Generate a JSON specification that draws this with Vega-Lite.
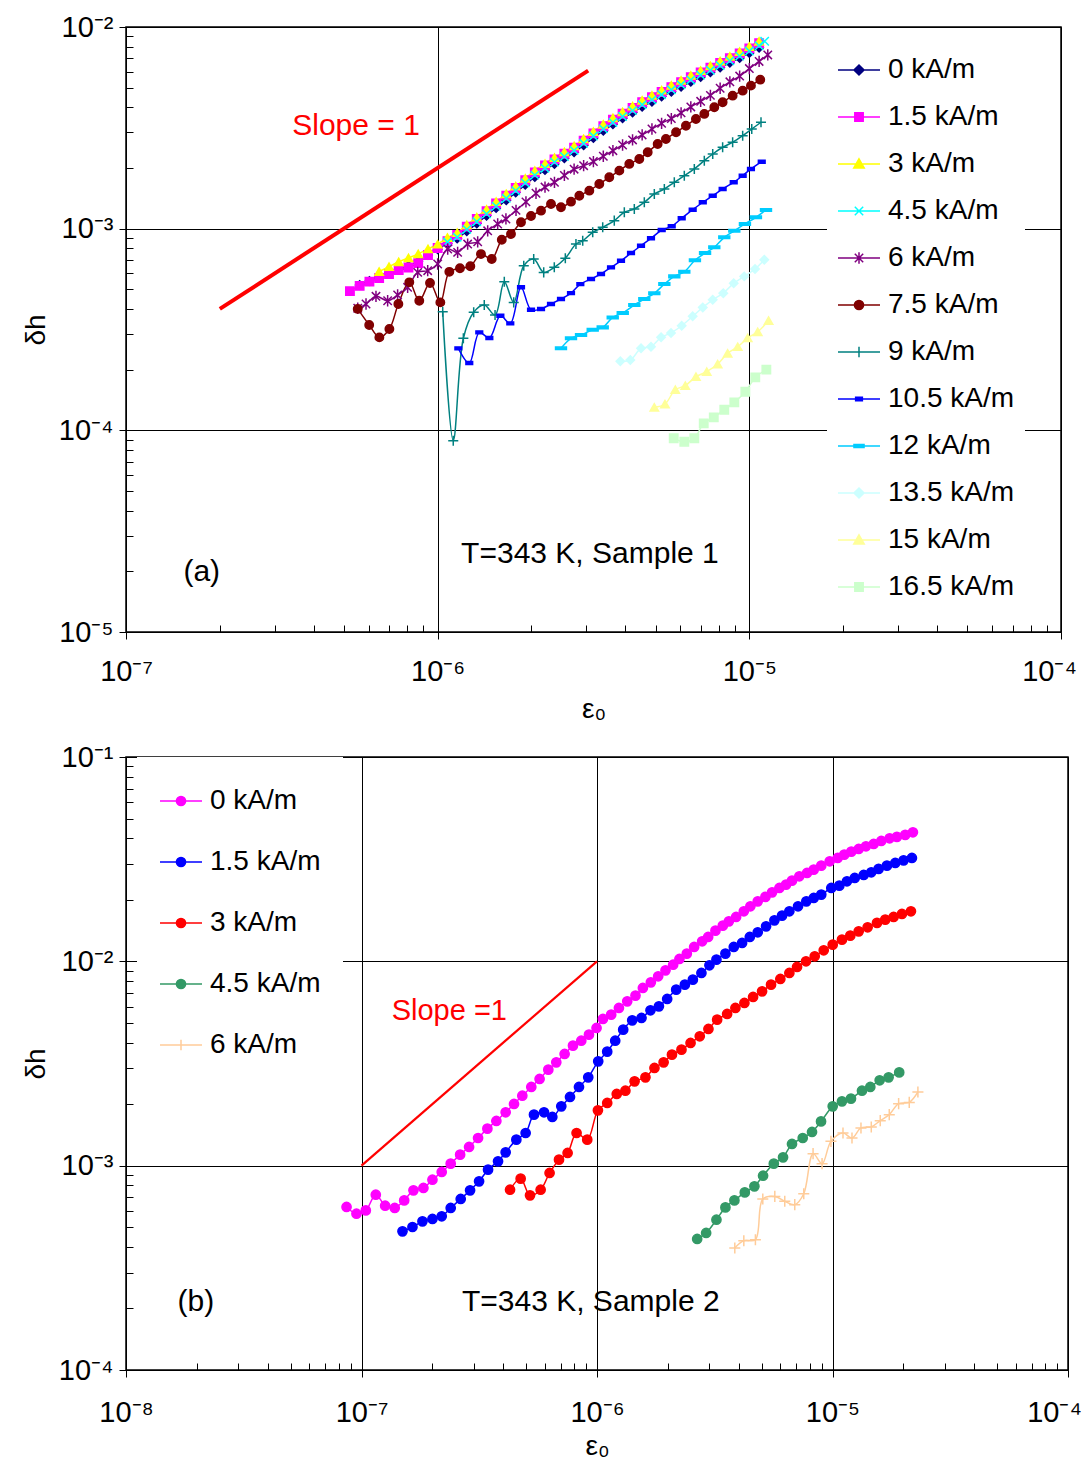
{
"$schema":"https://vega.github.io/schema/vega-lite/v6.json",
"background":"white",
"padding":{"left":21,"top":12,"right":10,"bottom":5},
"spacing":18,
"config":{"font":"Liberation Sans","view":{"stroke":"#000000","strokeWidth":1.5},
"axis":{"labelFont":"Liberation Sans","titleFont":"Liberation Sans","labelColor":"#000","titleColor":"#000","tickColor":"#000","gridColor":"#000","labelFontSize":29,"titleFontSize":28,"titleFontWeight":"normal"},
"legend":{"labelFont":"Liberation Sans","labelColor":"#000"}},
"resolve":{"scale":{"stroke":"independent","fill":"independent","shape":"independent"},"legend":{"shape":"independent"}},
"datasets":{"a":[
{"s":"0 kA/m","x":5.62e-7,"y":5.25e-4},{"s":"0 kA/m","x":6.04e-7,"y":5.5e-4},{"s":"0 kA/m","x":6.49e-7,"y":5.75e-4},{"s":"0 kA/m","x":6.98e-7,"y":6.02e-4},{"s":"0 kA/m","x":7.5e-7,"y":6.3e-4},{"s":"0 kA/m","x":8.06e-7,"y":6.55e-4},{"s":"0 kA/m","x":8.66e-7,"y":6.9e-4},{"s":"0 kA/m","x":9.31e-7,"y":7.4e-4},{"s":"0 kA/m","x":1e-6,"y":7.9e-4},{"s":"0 kA/m","x":1.075e-6,"y":8.45e-4},{"s":"0 kA/m","x":1.155e-6,"y":8.95e-4},{"s":"0 kA/m","x":1.24e-6,"y":9.71e-4},{"s":"0 kA/m","x":1.335e-6,"y":1.06e-3},{"s":"0 kA/m","x":1.435e-6,"y":1.159e-3},{"s":"0 kA/m","x":1.54e-6,"y":1.266e-3},{"s":"0 kA/m","x":1.66e-6,"y":1.384e-3},{"s":"0 kA/m","x":1.78e-6,"y":1.51e-3},{"s":"0 kA/m","x":1.91e-6,"y":1.65e-3},{"s":"0 kA/m","x":2.05e-6,"y":1.804e-3},{"s":"0 kA/m","x":2.21e-6,"y":1.953e-3},{"s":"0 kA/m","x":2.37e-6,"y":2.093e-3},{"s":"0 kA/m","x":2.55e-6,"y":2.232e-3},{"s":"0 kA/m","x":2.74e-6,"y":2.39e-3},{"s":"0 kA/m","x":2.94e-6,"y":2.595e-3},{"s":"0 kA/m","x":3.16e-6,"y":2.818e-3},{"s":"0 kA/m","x":3.4e-6,"y":3.06e-3},{"s":"0 kA/m","x":3.65e-6,"y":3.292e-3},{"s":"0 kA/m","x":3.92e-6,"y":3.525e-3},{"s":"0 kA/m","x":4.22e-6,"y":3.767e-3},{"s":"0 kA/m","x":4.53e-6,"y":4.027e-3},{"s":"0 kA/m","x":4.87e-6,"y":4.259e-3},{"s":"0 kA/m","x":5.23e-6,"y":4.52e-3},{"s":"0 kA/m","x":5.62e-6,"y":4.78e-3},{"s":"0 kA/m","x":6.04e-6,"y":5.059e-3},{"s":"0 kA/m","x":6.49e-6,"y":5.348e-3},{"s":"0 kA/m","x":6.98e-6,"y":5.654e-3},{"s":"0 kA/m","x":7.5e-6,"y":5.971e-3},{"s":"0 kA/m","x":8.06e-6,"y":6.305e-3},{"s":"0 kA/m","x":8.66e-6,"y":6.65e-3},{"s":"0 kA/m","x":9.31e-6,"y":7.02e-3},{"s":"0 kA/m","x":1e-5,"y":7.44e-3},{"s":"0 kA/m","x":1.075e-5,"y":7.9e-3},
{"s":"1.5 kA/m","x":5.23e-7,"y":4.9e-4},{"s":"1.5 kA/m","x":5.62e-7,"y":5.2e-4},{"s":"1.5 kA/m","x":6.04e-7,"y":5.46e-4},{"s":"1.5 kA/m","x":6.49e-7,"y":5.69e-4},{"s":"1.5 kA/m","x":6.98e-7,"y":5.96e-4},{"s":"1.5 kA/m","x":7.5e-7,"y":6.24e-4},{"s":"1.5 kA/m","x":8.06e-7,"y":6.42e-4},{"s":"1.5 kA/m","x":8.66e-7,"y":6.75e-4},{"s":"1.5 kA/m","x":9.31e-7,"y":7.4e-4},{"s":"1.5 kA/m","x":1e-6,"y":8.02e-4},{"s":"1.5 kA/m","x":1.075e-6,"y":8.68e-4},{"s":"1.5 kA/m","x":1.155e-6,"y":9.3e-4},{"s":"1.5 kA/m","x":1.24e-6,"y":1.023e-3},{"s":"1.5 kA/m","x":1.335e-6,"y":1.117e-3},{"s":"1.5 kA/m","x":1.435e-6,"y":1.221e-3},{"s":"1.5 kA/m","x":1.54e-6,"y":1.334e-3},{"s":"1.5 kA/m","x":1.66e-6,"y":1.458e-3},{"s":"1.5 kA/m","x":1.78e-6,"y":1.592e-3},{"s":"1.5 kA/m","x":1.91e-6,"y":1.739e-3},{"s":"1.5 kA/m","x":2.05e-6,"y":1.901e-3},{"s":"1.5 kA/m","x":2.21e-6,"y":2.058e-3},{"s":"1.5 kA/m","x":2.37e-6,"y":2.205e-3},{"s":"1.5 kA/m","x":2.55e-6,"y":2.352e-3},{"s":"1.5 kA/m","x":2.74e-6,"y":2.519e-3},{"s":"1.5 kA/m","x":2.94e-6,"y":2.734e-3},{"s":"1.5 kA/m","x":3.16e-6,"y":2.969e-3},{"s":"1.5 kA/m","x":3.4e-6,"y":3.224e-3},{"s":"1.5 kA/m","x":3.65e-6,"y":3.469e-3},{"s":"1.5 kA/m","x":3.92e-6,"y":3.714e-3},{"s":"1.5 kA/m","x":4.22e-6,"y":3.969e-3},{"s":"1.5 kA/m","x":4.53e-6,"y":4.243e-3},{"s":"1.5 kA/m","x":4.87e-6,"y":4.488e-3},{"s":"1.5 kA/m","x":5.23e-6,"y":4.763e-3},{"s":"1.5 kA/m","x":5.62e-6,"y":5.037e-3},{"s":"1.5 kA/m","x":6.04e-6,"y":5.331e-3},{"s":"1.5 kA/m","x":6.49e-6,"y":5.635e-3},{"s":"1.5 kA/m","x":6.98e-6,"y":5.958e-3},{"s":"1.5 kA/m","x":7.5e-6,"y":6.292e-3},{"s":"1.5 kA/m","x":8.06e-6,"y":6.644e-3},{"s":"1.5 kA/m","x":8.66e-6,"y":7.007e-3},{"s":"1.5 kA/m","x":9.31e-6,"y":7.399e-3},{"s":"1.5 kA/m","x":1e-5,"y":7.84e-3},{"s":"1.5 kA/m","x":1.075e-5,"y":8.32e-3},
{"s":"3 kA/m","x":6.49e-7,"y":6.13e-4},{"s":"3 kA/m","x":6.98e-7,"y":6.48e-4},{"s":"3 kA/m","x":7.5e-7,"y":6.85e-4},{"s":"3 kA/m","x":8.06e-7,"y":7.16e-4},{"s":"3 kA/m","x":8.66e-7,"y":7.49e-4},{"s":"3 kA/m","x":9.31e-7,"y":7.93e-4},{"s":"3 kA/m","x":1e-6,"y":8.37e-4},{"s":"3 kA/m","x":1.075e-6,"y":9.03e-4},{"s":"3 kA/m","x":1.155e-6,"y":9.55e-4},{"s":"3 kA/m","x":1.24e-6,"y":1.044e-3},{"s":"3 kA/m","x":1.335e-6,"y":1.14e-3},{"s":"3 kA/m","x":1.435e-6,"y":1.246e-3},{"s":"3 kA/m","x":1.54e-6,"y":1.361e-3},{"s":"3 kA/m","x":1.66e-6,"y":1.488e-3},{"s":"3 kA/m","x":1.78e-6,"y":1.624e-3},{"s":"3 kA/m","x":1.91e-6,"y":1.774e-3},{"s":"3 kA/m","x":2.05e-6,"y":1.94e-3},{"s":"3 kA/m","x":2.21e-6,"y":2.1e-3},{"s":"3 kA/m","x":2.37e-6,"y":2.25e-3},{"s":"3 kA/m","x":2.55e-6,"y":2.4e-3},{"s":"3 kA/m","x":2.74e-6,"y":2.57e-3},{"s":"3 kA/m","x":2.94e-6,"y":2.79e-3},{"s":"3 kA/m","x":3.16e-6,"y":3.03e-3},{"s":"3 kA/m","x":3.4e-6,"y":3.29e-3},{"s":"3 kA/m","x":3.65e-6,"y":3.54e-3},{"s":"3 kA/m","x":3.92e-6,"y":3.79e-3},{"s":"3 kA/m","x":4.22e-6,"y":4.05e-3},{"s":"3 kA/m","x":4.53e-6,"y":4.33e-3},{"s":"3 kA/m","x":4.87e-6,"y":4.58e-3},{"s":"3 kA/m","x":5.23e-6,"y":4.86e-3},{"s":"3 kA/m","x":5.62e-6,"y":5.14e-3},{"s":"3 kA/m","x":6.04e-6,"y":5.44e-3},{"s":"3 kA/m","x":6.49e-6,"y":5.75e-3},{"s":"3 kA/m","x":6.98e-6,"y":6.08e-3},{"s":"3 kA/m","x":7.5e-6,"y":6.42e-3},{"s":"3 kA/m","x":8.06e-6,"y":6.78e-3},{"s":"3 kA/m","x":8.66e-6,"y":7.15e-3},{"s":"3 kA/m","x":9.31e-6,"y":7.55e-3},{"s":"3 kA/m","x":1e-5,"y":8.0e-3},{"s":"3 kA/m","x":1.075e-5,"y":8.49e-3},
{"s":"4.5 kA/m","x":1.075e-6,"y":8.58e-4},{"s":"4.5 kA/m","x":1.155e-6,"y":9.07e-4},{"s":"4.5 kA/m","x":1.24e-6,"y":9.92e-4},{"s":"4.5 kA/m","x":1.335e-6,"y":1.083e-3},{"s":"4.5 kA/m","x":1.435e-6,"y":1.184e-3},{"s":"4.5 kA/m","x":1.54e-6,"y":1.293e-3},{"s":"4.5 kA/m","x":1.66e-6,"y":1.414e-3},{"s":"4.5 kA/m","x":1.78e-6,"y":1.543e-3},{"s":"4.5 kA/m","x":1.91e-6,"y":1.685e-3},{"s":"4.5 kA/m","x":2.05e-6,"y":1.843e-3},{"s":"4.5 kA/m","x":2.21e-6,"y":1.995e-3},{"s":"4.5 kA/m","x":2.37e-6,"y":2.138e-3},{"s":"4.5 kA/m","x":2.55e-6,"y":2.28e-3},{"s":"4.5 kA/m","x":2.74e-6,"y":2.442e-3},{"s":"4.5 kA/m","x":2.94e-6,"y":2.651e-3},{"s":"4.5 kA/m","x":3.16e-6,"y":2.879e-3},{"s":"4.5 kA/m","x":3.4e-6,"y":3.126e-3},{"s":"4.5 kA/m","x":3.65e-6,"y":3.363e-3},{"s":"4.5 kA/m","x":3.92e-6,"y":3.6e-3},{"s":"4.5 kA/m","x":4.22e-6,"y":3.848e-3},{"s":"4.5 kA/m","x":4.53e-6,"y":4.114e-3},{"s":"4.5 kA/m","x":4.87e-6,"y":4.351e-3},{"s":"4.5 kA/m","x":5.23e-6,"y":4.617e-3},{"s":"4.5 kA/m","x":5.62e-6,"y":4.883e-3},{"s":"4.5 kA/m","x":6.04e-6,"y":5.168e-3},{"s":"4.5 kA/m","x":6.49e-6,"y":5.463e-3},{"s":"4.5 kA/m","x":6.98e-6,"y":5.776e-3},{"s":"4.5 kA/m","x":7.5e-6,"y":6.099e-3},{"s":"4.5 kA/m","x":8.06e-6,"y":6.441e-3},{"s":"4.5 kA/m","x":8.66e-6,"y":6.793e-3},{"s":"4.5 kA/m","x":9.31e-6,"y":7.173e-3},{"s":"4.5 kA/m","x":1e-5,"y":7.6e-3},{"s":"4.5 kA/m","x":1.075e-5,"y":8.066e-3},{"s":"4.5 kA/m","x":1.12e-5,"y":8.5e-3},
{"s":"6 kA/m","x":5.54e-7,"y":4.03e-4},{"s":"6 kA/m","x":5.89e-7,"y":4.23e-4},{"s":"6 kA/m","x":6.34e-7,"y":4.62e-4},{"s":"6 kA/m","x":6.91e-7,"y":4.39e-4},{"s":"6 kA/m","x":7.44e-7,"y":4.69e-4},{"s":"6 kA/m","x":8.01e-7,"y":5.12e-4},{"s":"6 kA/m","x":8.63e-7,"y":6.07e-4},{"s":"6 kA/m","x":9.29e-7,"y":6.19e-4},{"s":"6 kA/m","x":1.0e-6,"y":6.68e-4},{"s":"6 kA/m","x":1.077e-6,"y":7.93e-4},{"s":"6 kA/m","x":1.159e-6,"y":7.63e-4},{"s":"6 kA/m","x":1.248e-6,"y":8.39e-4},{"s":"6 kA/m","x":1.344e-6,"y":8.61e-4},{"s":"6 kA/m","x":1.447e-6,"y":9.76e-4},{"s":"6 kA/m","x":1.558e-6,"y":1.055e-3},{"s":"6 kA/m","x":1.656e-6,"y":1.117e-3},{"s":"6 kA/m","x":1.784e-6,"y":1.232e-3},{"s":"6 kA/m","x":1.92e-6,"y":1.358e-3},{"s":"6 kA/m","x":2.068e-6,"y":1.498e-3},{"s":"6 kA/m","x":2.21e-6,"y":1.608e-3},{"s":"6 kA/m","x":2.37e-6,"y":1.698e-3},{"s":"6 kA/m","x":2.55e-6,"y":1.838e-3},{"s":"6 kA/m","x":2.74e-6,"y":1.972e-3},{"s":"6 kA/m","x":2.94e-6,"y":2.053e-3},{"s":"6 kA/m","x":3.16e-6,"y":2.151e-3},{"s":"6 kA/m","x":3.4e-6,"y":2.286e-3},{"s":"6 kA/m","x":3.65e-6,"y":2.436e-3},{"s":"6 kA/m","x":3.92e-6,"y":2.6e-3},{"s":"6 kA/m","x":4.22e-6,"y":2.754e-3},{"s":"6 kA/m","x":4.53e-6,"y":2.915e-3},{"s":"6 kA/m","x":4.87e-6,"y":3.12e-3},{"s":"6 kA/m","x":5.23e-6,"y":3.33e-3},{"s":"6 kA/m","x":5.62e-6,"y":3.515e-3},{"s":"6 kA/m","x":6.04e-6,"y":3.752e-3},{"s":"6 kA/m","x":6.49e-6,"y":4.013e-3},{"s":"6 kA/m","x":6.98e-6,"y":4.28e-3},{"s":"6 kA/m","x":7.5e-6,"y":4.58e-3},{"s":"6 kA/m","x":8.06e-6,"y":4.97e-3},{"s":"6 kA/m","x":8.66e-6,"y":5.35e-3},{"s":"6 kA/m","x":9.31e-6,"y":5.71e-3},{"s":"6 kA/m","x":1e-5,"y":6.22e-3},{"s":"6 kA/m","x":1.075e-5,"y":6.75e-3},{"s":"6 kA/m","x":1.146e-5,"y":7.27e-3},
{"s":"7.5 kA/m","x":5.54e-7,"y":4.0e-4},{"s":"7.5 kA/m","x":6.03e-7,"y":3.33e-4},{"s":"7.5 kA/m","x":6.5e-7,"y":2.89e-4},{"s":"7.5 kA/m","x":7.0e-7,"y":3.18e-4},{"s":"7.5 kA/m","x":7.48e-7,"y":4.23e-4},{"s":"7.5 kA/m","x":8.11e-7,"y":5.42e-4},{"s":"7.5 kA/m","x":8.73e-7,"y":4.39e-4},{"s":"7.5 kA/m","x":9.45e-7,"y":5.38e-4},{"s":"7.5 kA/m","x":1.02e-6,"y":4.31e-4},{"s":"7.5 kA/m","x":1.09e-6,"y":6.11e-4},{"s":"7.5 kA/m","x":1.179e-6,"y":6.36e-4},{"s":"7.5 kA/m","x":1.273e-6,"y":6.51e-4},{"s":"7.5 kA/m","x":1.377e-6,"y":7.48e-4},{"s":"7.5 kA/m","x":1.491e-6,"y":7.07e-4},{"s":"7.5 kA/m","x":1.606e-6,"y":8.81e-4},{"s":"7.5 kA/m","x":1.719e-6,"y":9.41e-4},{"s":"7.5 kA/m","x":1.851e-6,"y":1.076e-3},{"s":"7.5 kA/m","x":1.993e-6,"y":1.156e-3},{"s":"7.5 kA/m","x":2.146e-6,"y":1.228e-3},{"s":"7.5 kA/m","x":2.31e-6,"y":1.326e-3},{"s":"7.5 kA/m","x":2.487e-6,"y":1.277e-3},{"s":"7.5 kA/m","x":2.678e-6,"y":1.361e-3},{"s":"7.5 kA/m","x":2.848e-6,"y":1.457e-3},{"s":"7.5 kA/m","x":3.066e-6,"y":1.543e-3},{"s":"7.5 kA/m","x":3.301e-6,"y":1.666e-3},{"s":"7.5 kA/m","x":3.554e-6,"y":1.799e-3},{"s":"7.5 kA/m","x":3.827e-6,"y":1.94e-3},{"s":"7.5 kA/m","x":4.12e-6,"y":2.094e-3},{"s":"7.5 kA/m","x":4.436e-6,"y":2.216e-3},{"s":"7.5 kA/m","x":4.72e-6,"y":2.392e-3},{"s":"7.5 kA/m","x":5.08e-6,"y":2.63e-3},{"s":"7.5 kA/m","x":5.4e-6,"y":2.785e-3},{"s":"7.5 kA/m","x":5.82e-6,"y":3.006e-3},{"s":"7.5 kA/m","x":6.26e-6,"y":3.24e-3},{"s":"7.5 kA/m","x":6.74e-6,"y":3.5e-3},{"s":"7.5 kA/m","x":7.17e-6,"y":3.706e-3},{"s":"7.5 kA/m","x":7.72e-6,"y":4.0e-3},{"s":"7.5 kA/m","x":8.21e-6,"y":4.236e-3},{"s":"7.5 kA/m","x":8.84e-6,"y":4.566e-3},{"s":"7.5 kA/m","x":9.52e-6,"y":4.835e-3},{"s":"7.5 kA/m","x":1.012e-5,"y":5.12e-3},{"s":"7.5 kA/m","x":1.084e-5,"y":5.48e-3},
{"s":"9 kA/m","x":1.038e-6,"y":3.87e-4},{"s":"9 kA/m","x":1.122e-6,"y":8.88e-5},{"s":"9 kA/m","x":1.209e-6,"y":2.86e-4},{"s":"9 kA/m","x":1.305e-6,"y":3.85e-4},{"s":"9 kA/m","x":1.411e-6,"y":4.18e-4},{"s":"9 kA/m","x":1.528e-6,"y":3.73e-4},{"s":"9 kA/m","x":1.636e-6,"y":5.46e-4},{"s":"9 kA/m","x":1.754e-6,"y":4.31e-4},{"s":"9 kA/m","x":1.889e-6,"y":6.55e-4},{"s":"9 kA/m","x":2.033e-6,"y":7.07e-4},{"s":"9 kA/m","x":2.189e-6,"y":6.07e-4},{"s":"9 kA/m","x":2.367e-6,"y":6.43e-4},{"s":"9 kA/m","x":2.568e-6,"y":7.13e-4},{"s":"9 kA/m","x":2.778e-6,"y":8.39e-4},{"s":"9 kA/m","x":2.92e-6,"y":8.71e-4},{"s":"9 kA/m","x":3.144e-6,"y":9.59e-4},{"s":"9 kA/m","x":3.385e-6,"y":1.016e-3},{"s":"9 kA/m","x":3.687e-6,"y":1.096e-3},{"s":"9 kA/m","x":3.971e-6,"y":1.206e-3},{"s":"9 kA/m","x":4.275e-6,"y":1.252e-3},{"s":"9 kA/m","x":4.603e-6,"y":1.352e-3},{"s":"9 kA/m","x":4.956e-6,"y":1.486e-3},{"s":"9 kA/m","x":5.337e-6,"y":1.573e-3},{"s":"9 kA/m","x":5.745e-6,"y":1.698e-3},{"s":"9 kA/m","x":6.185e-6,"y":1.831e-3},{"s":"9 kA/m","x":6.66e-6,"y":1.977e-3},{"s":"9 kA/m","x":7.17e-6,"y":2.174e-3},{"s":"9 kA/m","x":7.63e-6,"y":2.346e-3},{"s":"9 kA/m","x":8.21e-6,"y":2.533e-3},{"s":"9 kA/m","x":8.84e-6,"y":2.682e-3},{"s":"9 kA/m","x":9.52e-6,"y":2.892e-3},{"s":"9 kA/m","x":1.018e-5,"y":3.12e-3},{"s":"9 kA/m","x":1.09e-5,"y":3.37e-3},
{"s":"10.5 kA/m","x":1.165e-6,"y":2.55e-4},{"s":"10.5 kA/m","x":1.263e-6,"y":2.157e-4},{"s":"10.5 kA/m","x":1.36e-6,"y":3.06e-4},{"s":"10.5 kA/m","x":1.465e-6,"y":2.87e-4},{"s":"10.5 kA/m","x":1.589e-6,"y":3.7e-4},{"s":"10.5 kA/m","x":1.71e-6,"y":3.39e-4},{"s":"10.5 kA/m","x":1.851e-6,"y":5.12e-4},{"s":"10.5 kA/m","x":1.993e-6,"y":3.96e-4},{"s":"10.5 kA/m","x":2.146e-6,"y":4.0e-4},{"s":"10.5 kA/m","x":2.31e-6,"y":4.23e-4},{"s":"10.5 kA/m","x":2.487e-6,"y":4.48e-4},{"s":"10.5 kA/m","x":2.678e-6,"y":4.79e-4},{"s":"10.5 kA/m","x":2.869e-6,"y":5.31e-4},{"s":"10.5 kA/m","x":3.105e-6,"y":5.63e-4},{"s":"10.5 kA/m","x":3.343e-6,"y":5.96e-4},{"s":"10.5 kA/m","x":3.599e-6,"y":6.43e-4},{"s":"10.5 kA/m","x":3.875e-6,"y":6.93e-4},{"s":"10.5 kA/m","x":4.172e-6,"y":7.57e-4},{"s":"10.5 kA/m","x":4.492e-6,"y":8.23e-4},{"s":"10.5 kA/m","x":4.836e-6,"y":8.96e-4},{"s":"10.5 kA/m","x":5.234e-6,"y":9.84e-4},{"s":"10.5 kA/m","x":5.635e-6,"y":1.028e-3},{"s":"10.5 kA/m","x":6.067e-6,"y":1.126e-3},{"s":"10.5 kA/m","x":6.58e-6,"y":1.242e-3},{"s":"10.5 kA/m","x":7.09e-6,"y":1.352e-3},{"s":"10.5 kA/m","x":7.63e-6,"y":1.457e-3},{"s":"10.5 kA/m","x":8.21e-6,"y":1.573e-3},{"s":"10.5 kA/m","x":8.91e-6,"y":1.698e-3},{"s":"10.5 kA/m","x":9.52e-6,"y":1.831e-3},{"s":"10.5 kA/m","x":1.012e-5,"y":1.977e-3},{"s":"10.5 kA/m","x":1.096e-5,"y":2.149e-3},
{"s":"12 kA/m","x":2.487e-6,"y":2.55e-4},{"s":"12 kA/m","x":2.678e-6,"y":2.86e-4},{"s":"12 kA/m","x":2.884e-6,"y":2.97e-4},{"s":"12 kA/m","x":3.144e-6,"y":3.15e-4},{"s":"12 kA/m","x":3.385e-6,"y":3.24e-4},{"s":"12 kA/m","x":3.645e-6,"y":3.63e-4},{"s":"12 kA/m","x":3.925e-6,"y":3.82e-4},{"s":"12 kA/m","x":4.275e-6,"y":4.18e-4},{"s":"12 kA/m","x":4.603e-6,"y":4.48e-4},{"s":"12 kA/m","x":4.956e-6,"y":4.78e-4},{"s":"12 kA/m","x":5.337e-6,"y":5.31e-4},{"s":"12 kA/m","x":5.745e-6,"y":5.8e-4},{"s":"12 kA/m","x":6.185e-6,"y":6.11e-4},{"s":"12 kA/m","x":6.69e-6,"y":6.97e-4},{"s":"12 kA/m","x":7.21e-6,"y":7.57e-4},{"s":"12 kA/m","x":7.72e-6,"y":8.08e-4},{"s":"12 kA/m","x":8.31e-6,"y":9.06e-4},{"s":"12 kA/m","x":8.95e-6,"y":9.76e-4},{"s":"12 kA/m","x":9.68e-6,"y":1.055e-3},{"s":"12 kA/m","x":1.05e-5,"y":1.139e-3},{"s":"12 kA/m","x":1.131e-5,"y":1.238e-3},
{"s":"13.5 kA/m","x":3.855e-6,"y":2.198e-4},{"s":"13.5 kA/m","x":4.15e-6,"y":2.23e-4},{"s":"13.5 kA/m","x":4.492e-6,"y":2.55e-4},{"s":"13.5 kA/m","x":4.836e-6,"y":2.597e-4},{"s":"13.5 kA/m","x":5.21e-6,"y":2.892e-4},{"s":"13.5 kA/m","x":5.607e-6,"y":3.04e-4},{"s":"13.5 kA/m","x":6.067e-6,"y":3.3e-4},{"s":"13.5 kA/m","x":6.58e-6,"y":3.675e-4},{"s":"13.5 kA/m","x":7.09e-6,"y":4.07e-4},{"s":"13.5 kA/m","x":7.63e-6,"y":4.44e-4},{"s":"13.5 kA/m","x":8.25e-6,"y":4.79e-4},{"s":"13.5 kA/m","x":8.91e-6,"y":5.36e-4},{"s":"13.5 kA/m","x":9.63e-6,"y":5.8e-4},{"s":"13.5 kA/m","x":1.043e-5,"y":6.31e-4},{"s":"13.5 kA/m","x":1.117e-5,"y":7.01e-4},
{"s":"15 kA/m","x":4.956e-6,"y":1.3e-4},{"s":"15 kA/m","x":5.363e-6,"y":1.35e-4},{"s":"15 kA/m","x":5.787e-6,"y":1.59e-4},{"s":"15 kA/m","x":6.23e-6,"y":1.665e-4},{"s":"15 kA/m","x":6.74e-6,"y":1.844e-4},{"s":"15 kA/m","x":7.3e-6,"y":1.953e-4},{"s":"15 kA/m","x":7.915e-6,"y":2.132e-4},{"s":"15 kA/m","x":8.52e-6,"y":2.41e-4},{"s":"15 kA/m","x":9.18e-6,"y":2.597e-4},{"s":"15 kA/m","x":9.88e-6,"y":2.87e-4},{"s":"15 kA/m","x":1.064e-5,"y":3.08e-4},{"s":"15 kA/m","x":1.153e-5,"y":3.5e-4},
{"s":"16.5 kA/m","x":5.72e-6,"y":9.13e-5},{"s":"16.5 kA/m","x":6.185e-6,"y":8.78e-5},{"s":"16.5 kA/m","x":6.66e-6,"y":9.13e-5},{"s":"16.5 kA/m","x":7.14e-6,"y":1.083e-4},{"s":"16.5 kA/m","x":7.69e-6,"y":1.16e-4},{"s":"16.5 kA/m","x":8.31e-6,"y":1.265e-4},{"s":"16.5 kA/m","x":8.95e-6,"y":1.377e-4},{"s":"16.5 kA/m","x":9.71e-6,"y":1.554e-4},{"s":"16.5 kA/m","x":1.045e-5,"y":1.831e-4},{"s":"16.5 kA/m","x":1.134e-5,"y":2.0e-4}
],
"b":[
{"s":"0 kA/m","x":8.64e-8,"y":6.28e-4},{"s":"0 kA/m","x":9.52e-8,"y":5.82e-4},{"s":"0 kA/m","x":1.043e-7,"y":6.04e-4},{"s":"0 kA/m","x":1.15e-7,"y":7.21e-4},{"s":"0 kA/m","x":1.26e-7,"y":6.37e-4},{"s":"0 kA/m","x":1.384e-7,"y":6.21e-4},{"s":"0 kA/m","x":1.518e-7,"y":6.76e-4},{"s":"0 kA/m","x":1.662e-7,"y":7.57e-4},{"s":"0 kA/m","x":1.832e-7,"y":7.78e-4},{"s":"0 kA/m","x":2.001e-7,"y":8.54e-4},{"s":"0 kA/m","x":2.191e-7,"y":9.32e-4},{"s":"0 kA/m","x":2.392e-7,"y":1.023e-3},{"s":"0 kA/m","x":2.623e-7,"y":1.132e-3},{"s":"0 kA/m","x":2.863e-7,"y":1.235e-3},{"s":"0 kA/m","x":3.126e-7,"y":1.366e-3},{"s":"0 kA/m","x":3.424e-7,"y":1.518e-3},{"s":"0 kA/m","x":3.738e-7,"y":1.655e-3},{"s":"0 kA/m","x":4.094e-7,"y":1.824e-3},{"s":"0 kA/m","x":4.443e-7,"y":2.005e-3},{"s":"0 kA/m","x":4.818e-7,"y":2.2e-3},{"s":"0 kA/m","x":5.26e-7,"y":2.428e-3},{"s":"0 kA/m","x":5.705e-7,"y":2.658e-3},{"s":"0 kA/m","x":6.213e-7,"y":2.951e-3},{"s":"0 kA/m","x":6.716e-7,"y":3.204e-3},{"s":"0 kA/m","x":7.286e-7,"y":3.522e-3},{"s":"0 kA/m","x":7.907e-7,"y":3.868e-3},{"s":"0 kA/m","x":8.575e-7,"y":4.09e-3},{"s":"0 kA/m","x":9.245e-7,"y":4.378e-3},{"s":"0 kA/m","x":9.956e-7,"y":4.72e-3},{"s":"0 kA/m","x":1.06e-6,"y":5.225e-3},{"s":"0 kA/m","x":1.149e-6,"y":5.485e-3},{"s":"0 kA/m","x":1.239e-6,"y":5.915e-3},{"s":"0 kA/m","x":1.344e-6,"y":6.37e-3},{"s":"0 kA/m","x":1.457e-6,"y":6.795e-3},{"s":"0 kA/m","x":1.566e-6,"y":7.41e-3},{"s":"0 kA/m","x":1.693e-6,"y":7.89e-3},{"s":"0 kA/m","x":1.819e-6,"y":8.445e-3},{"s":"0 kA/m","x":1.954e-6,"y":9.035e-3},{"s":"0 kA/m","x":2.106e-6,"y":9.63e-3},{"s":"0 kA/m","x":2.239e-6,"y":1.027e-2},{"s":"0 kA/m","x":2.407e-6,"y":1.091e-2},{"s":"0 kA/m","x":2.585e-6,"y":1.176e-2},{"s":"0 kA/m","x":2.796e-6,"y":1.253e-2},{"s":"0 kA/m","x":2.965e-6,"y":1.316e-2},{"s":"0 kA/m","x":3.184e-6,"y":1.413e-2},{"s":"0 kA/m","x":3.422e-6,"y":1.495e-2},{"s":"0 kA/m","x":3.63e-6,"y":1.569e-2},{"s":"0 kA/m","x":3.897e-6,"y":1.649e-2},{"s":"0 kA/m","x":4.202e-6,"y":1.757e-2},{"s":"0 kA/m","x":4.48e-6,"y":1.859e-2},{"s":"0 kA/m","x":4.815e-6,"y":1.966e-2},{"s":"0 kA/m","x":5.19e-6,"y":2.067e-2},{"s":"0 kA/m","x":5.54e-6,"y":2.176e-2},{"s":"0 kA/m","x":5.95e-6,"y":2.287e-2},{"s":"0 kA/m","x":6.35e-6,"y":2.374e-2},{"s":"0 kA/m","x":6.73e-6,"y":2.483e-2},{"s":"0 kA/m","x":7.23e-6,"y":2.607e-2},{"s":"0 kA/m","x":7.795e-6,"y":2.708e-2},{"s":"0 kA/m","x":8.325e-6,"y":2.811e-2},{"s":"0 kA/m","x":8.96e-6,"y":2.94e-2},{"s":"0 kA/m","x":9.73e-6,"y":3.087e-2},{"s":"0 kA/m","x":1.052e-5,"y":3.207e-2},{"s":"0 kA/m","x":1.122e-5,"y":3.329e-2},{"s":"0 kA/m","x":1.202e-5,"y":3.443e-2},{"s":"0 kA/m","x":1.292e-5,"y":3.549e-2},{"s":"0 kA/m","x":1.387e-5,"y":3.655e-2},{"s":"0 kA/m","x":1.496e-5,"y":3.755e-2},{"s":"0 kA/m","x":1.611e-5,"y":3.884e-2},{"s":"0 kA/m","x":1.748e-5,"y":4.0e-2},{"s":"0 kA/m","x":1.877e-5,"y":4.064e-2},{"s":"0 kA/m","x":2.036e-5,"y":4.157e-2},{"s":"0 kA/m","x":2.195e-5,"y":4.28e-2},
{"s":"1.5 kA/m","x":1.493e-7,"y":4.77e-4},{"s":"1.5 kA/m","x":1.646e-7,"y":5.01e-4},{"s":"1.5 kA/m","x":1.815e-7,"y":5.34e-4},{"s":"1.5 kA/m","x":2.001e-7,"y":5.485e-4},{"s":"1.5 kA/m","x":2.191e-7,"y":5.65e-4},{"s":"1.5 kA/m","x":2.392e-7,"y":6.21e-4},{"s":"1.5 kA/m","x":2.638e-7,"y":6.87e-4},{"s":"1.5 kA/m","x":2.891e-7,"y":7.57e-4},{"s":"1.5 kA/m","x":3.157e-7,"y":8.38e-4},{"s":"1.5 kA/m","x":3.447e-7,"y":9.56e-4},{"s":"1.5 kA/m","x":3.8e-7,"y":1.05e-3},{"s":"1.5 kA/m","x":4.094e-7,"y":1.162e-3},{"s":"1.5 kA/m","x":4.545e-7,"y":1.341e-3},{"s":"1.5 kA/m","x":4.977e-7,"y":1.445e-3},{"s":"1.5 kA/m","x":5.4e-7,"y":1.777e-3},{"s":"1.5 kA/m","x":5.957e-7,"y":1.824e-3},{"s":"1.5 kA/m","x":6.46e-7,"y":1.731e-3},{"s":"1.5 kA/m","x":7.053e-7,"y":1.951e-3},{"s":"1.5 kA/m","x":7.68e-7,"y":2.169e-3},{"s":"1.5 kA/m","x":8.385e-7,"y":2.428e-3},{"s":"1.5 kA/m","x":9.18e-7,"y":2.705e-3},{"s":"1.5 kA/m","x":1.012e-6,"y":3.24e-3},{"s":"1.5 kA/m","x":1.105e-6,"y":3.614e-3},{"s":"1.5 kA/m","x":1.195e-6,"y":4.09e-3},{"s":"1.5 kA/m","x":1.292e-6,"y":4.631e-3},{"s":"1.5 kA/m","x":1.411e-6,"y":5.143e-3},{"s":"1.5 kA/m","x":1.545e-6,"y":5.284e-3},{"s":"1.5 kA/m","x":1.687e-6,"y":5.757e-3},{"s":"1.5 kA/m","x":1.832e-6,"y":6.022e-3},{"s":"1.5 kA/m","x":1.986e-6,"y":6.545e-3},{"s":"1.5 kA/m","x":2.169e-6,"y":7.27e-3},{"s":"1.5 kA/m","x":2.361e-6,"y":7.69e-3},{"s":"1.5 kA/m","x":2.553e-6,"y":8.136e-3},{"s":"1.5 kA/m","x":2.776e-6,"y":8.774e-3},{"s":"1.5 kA/m","x":3.002e-6,"y":9.56e-3},{"s":"1.5 kA/m","x":3.215e-6,"y":1.019e-2},{"s":"1.5 kA/m","x":3.51e-6,"y":1.091e-2},{"s":"1.5 kA/m","x":3.809e-6,"y":1.176e-2},{"s":"1.5 kA/m","x":4.131e-6,"y":1.23e-2},{"s":"1.5 kA/m","x":4.455e-6,"y":1.316e-2},{"s":"1.5 kA/m","x":4.815e-6,"y":1.387e-2},{"s":"1.5 kA/m","x":5.224e-6,"y":1.483e-2},{"s":"1.5 kA/m","x":5.667e-6,"y":1.587e-2},{"s":"1.5 kA/m","x":6.107e-6,"y":1.674e-2},{"s":"1.5 kA/m","x":6.559e-6,"y":1.757e-2},{"s":"1.5 kA/m","x":7.141e-6,"y":1.859e-2},{"s":"1.5 kA/m","x":7.743e-6,"y":1.966e-2},{"s":"1.5 kA/m","x":8.325e-6,"y":2.043e-2},{"s":"1.5 kA/m","x":8.96e-6,"y":2.121e-2},{"s":"1.5 kA/m","x":9.883e-6,"y":2.287e-2},{"s":"1.5 kA/m","x":1.069e-5,"y":2.347e-2},{"s":"1.5 kA/m","x":1.152e-5,"y":2.464e-2},{"s":"1.5 kA/m","x":1.243e-5,"y":2.56e-2},{"s":"1.5 kA/m","x":1.357e-5,"y":2.648e-2},{"s":"1.5 kA/m","x":1.461e-5,"y":2.727e-2},{"s":"1.5 kA/m","x":1.57e-5,"y":2.834e-2},{"s":"1.5 kA/m","x":1.703e-5,"y":2.94e-2},{"s":"1.5 kA/m","x":1.847e-5,"y":3.031e-2},{"s":"1.5 kA/m","x":2.004e-5,"y":3.12e-2},{"s":"1.5 kA/m","x":2.174e-5,"y":3.207e-2},
{"s":"3 kA/m","x":4.273e-7,"y":7.63e-4},{"s":"3 kA/m","x":4.74e-7,"y":8.64e-4},{"s":"3 kA/m","x":5.195e-7,"y":7.155e-4},{"s":"3 kA/m","x":5.763e-7,"y":7.63e-4},{"s":"3 kA/m","x":6.29e-7,"y":9.21e-4},{"s":"3 kA/m","x":6.897e-7,"y":1.07e-3},{"s":"3 kA/m","x":7.503e-7,"y":1.154e-3},{"s":"3 kA/m","x":8.19e-7,"y":1.445e-3},{"s":"3 kA/m","x":9.09e-7,"y":1.341e-3},{"s":"3 kA/m","x":1.009e-6,"y":1.865e-3},{"s":"3 kA/m","x":1.105e-6,"y":2.027e-3},{"s":"3 kA/m","x":1.213e-6,"y":2.244e-3},{"s":"3 kA/m","x":1.32e-6,"y":2.328e-3},{"s":"3 kA/m","x":1.444e-6,"y":2.586e-3},{"s":"3 kA/m","x":1.606e-6,"y":2.705e-3},{"s":"3 kA/m","x":1.754e-6,"y":3.008e-3},{"s":"3 kA/m","x":1.918e-6,"y":3.204e-3},{"s":"3 kA/m","x":2.081e-6,"y":3.494e-3},{"s":"3 kA/m","x":2.284e-6,"y":3.697e-3},{"s":"3 kA/m","x":2.496e-6,"y":3.986e-3},{"s":"3 kA/m","x":2.731e-6,"y":4.295e-3},{"s":"3 kA/m","x":2.973e-6,"y":4.668e-3},{"s":"3 kA/m","x":3.237e-6,"y":5.183e-3},{"s":"3 kA/m","x":3.569e-6,"y":5.528e-3},{"s":"3 kA/m","x":3.87e-6,"y":5.915e-3},{"s":"3 kA/m","x":4.226e-6,"y":6.256e-3},{"s":"3 kA/m","x":4.6e-6,"y":6.695e-3},{"s":"3 kA/m","x":5.023e-6,"y":7.13e-3},{"s":"3 kA/m","x":5.483e-6,"y":7.69e-3},{"s":"3 kA/m","x":6.005e-6,"y":8.2e-3},{"s":"3 kA/m","x":6.559e-6,"y":8.774e-3},{"s":"3 kA/m","x":7.07e-6,"y":9.39e-3},{"s":"3 kA/m","x":7.72e-6,"y":1.0e-2},{"s":"3 kA/m","x":8.405e-6,"y":1.058e-2},{"s":"3 kA/m","x":9.178e-6,"y":1.132e-2},{"s":"3 kA/m","x":1.002e-5,"y":1.207e-2},{"s":"3 kA/m","x":1.097e-5,"y":1.277e-2},{"s":"3 kA/m","x":1.19e-5,"y":1.336e-2},{"s":"3 kA/m","x":1.292e-5,"y":1.402e-2},{"s":"3 kA/m","x":1.41e-5,"y":1.467e-2},{"s":"3 kA/m","x":1.545e-5,"y":1.542e-2},{"s":"3 kA/m","x":1.675e-5,"y":1.6e-2},{"s":"3 kA/m","x":1.818e-5,"y":1.649e-2},{"s":"3 kA/m","x":1.972e-5,"y":1.706e-2},{"s":"3 kA/m","x":2.153e-5,"y":1.757e-2},
{"s":"4.5 kA/m","x":2.663e-6,"y":4.378e-4},{"s":"4.5 kA/m","x":2.907e-6,"y":4.684e-4},{"s":"4.5 kA/m","x":3.215e-6,"y":5.44e-4},{"s":"4.5 kA/m","x":3.51e-6,"y":6.25e-4},{"s":"4.5 kA/m","x":3.832e-6,"y":6.76e-4},{"s":"4.5 kA/m","x":4.242e-6,"y":7.4e-4},{"s":"4.5 kA/m","x":4.66e-6,"y":7.92e-4},{"s":"4.5 kA/m","x":5.072e-6,"y":8.93e-4},{"s":"4.5 kA/m","x":5.633e-6,"y":1.023e-3},{"s":"4.5 kA/m","x":6.166e-6,"y":1.098e-3},{"s":"4.5 kA/m","x":6.73e-6,"y":1.277e-3},{"s":"4.5 kA/m","x":7.475e-6,"y":1.366e-3},{"s":"4.5 kA/m","x":8.185e-6,"y":1.462e-3},{"s":"4.5 kA/m","x":8.94e-6,"y":1.647e-3},{"s":"4.5 kA/m","x":1.002e-5,"y":1.951e-3},{"s":"4.5 kA/m","x":1.097e-5,"y":2.064e-3},{"s":"4.5 kA/m","x":1.198e-5,"y":2.128e-3},{"s":"4.5 kA/m","x":1.334e-5,"y":2.328e-3},{"s":"4.5 kA/m","x":1.447e-5,"y":2.428e-3},{"s":"4.5 kA/m","x":1.586e-5,"y":2.616e-3},{"s":"4.5 kA/m","x":1.731e-5,"y":2.705e-3},{"s":"4.5 kA/m","x":1.92e-5,"y":2.861e-3},
{"s":"6 kA/m","x":3.847e-6,"y":3.955e-4},{"s":"6 kA/m","x":4.202e-6,"y":4.295e-4},{"s":"6 kA/m","x":4.706e-6,"y":4.343e-4},{"s":"6 kA/m","x":5.058e-6,"y":6.87e-4},{"s":"6 kA/m","x":5.688e-6,"y":7.074e-4},{"s":"6 kA/m","x":6.27e-6,"y":6.69e-4},{"s":"6 kA/m","x":6.914e-6,"y":6.445e-4},{"s":"6 kA/m","x":7.55e-6,"y":7.29e-4},{"s":"6 kA/m","x":8.27e-6,"y":1.145e-3},{"s":"6 kA/m","x":9.03e-6,"y":1.023e-3},{"s":"6 kA/m","x":9.85e-6,"y":1.315e-3},{"s":"6 kA/m","x":1.108e-5,"y":1.445e-3},{"s":"6 kA/m","x":1.21e-5,"y":1.366e-3},{"s":"6 kA/m","x":1.321e-5,"y":1.53e-3},{"s":"6 kA/m","x":1.461e-5,"y":1.547e-3},{"s":"6 kA/m","x":1.595e-5,"y":1.661e-3},{"s":"6 kA/m","x":1.742e-5,"y":1.777e-3},{"s":"6 kA/m","x":1.909e-5,"y":2.012e-3},{"s":"6 kA/m","x":2.118e-5,"y":2.04e-3},{"s":"6 kA/m","x":2.305e-5,"y":2.295e-3}
]},
"vconcat":[
{
"width":935,"height":605,
"resolve":{"axis":{"x":"independent","y":"independent"},"scale":{"shape":"independent"},"legend":{"shape":"independent"}},
"layer":[
{"data":{"name":"a"},
"mark":{"type":"line","strokeWidth":1.5,"interpolate":"catmull-rom"},
"encoding":{
"x":{"field":"x","type":"quantitative","scale":{"type":"log","domain":[1e-7,1e-4],"nice":false},
"axis":{"orient":"bottom","values":[1e-7,1e-6,1e-5,1e-4],"grid":true,"gridColor":"#000","gridWidth":1,"gridOpacity":1,"domain":false,"tickSize":7,"tickWidth":1,"labelExpr":"['10⁰','10⁻¹','10⁻²','10⁻³','10⁻⁴','10⁻⁵','10⁻⁶','10⁻⁷','10⁻⁸'][round(-log(datum.value)/LN10)]","labelPadding":18,"labelOffset":{"condition":{"test":"datum.value > 5e-5","value":-12},"value":0},"labelFlush":false,"labelOverlap":false,"title":"ε₀","titlePadding":9}},
"y":{"field":"y","type":"quantitative","scale":{"type":"log","domain":[1e-5,1e-2],"nice":false},
"axis":{"orient":"left","values":[1e-5,1e-4,1e-3,1e-2],"grid":true,"gridColor":"#000","gridWidth":1,"gridOpacity":1,"domain":false,"tickSize":7,"tickWidth":1,"labelExpr":"['10⁰','10⁻¹','10⁻²','10⁻³','10⁻⁴','10⁻⁵','10⁻⁶','10⁻⁷','10⁻⁸'][round(-log(datum.value)/LN10)]","labelPadding":6,"labelFlush":false,"labelOverlap":false,"title":"δh","titlePadding":8}},
"stroke":{"field":"s","type":"nominal","scale":{"domain":["0 kA/m","1.5 kA/m","3 kA/m","4.5 kA/m","6 kA/m","7.5 kA/m","9 kA/m","10.5 kA/m","12 kA/m","13.5 kA/m","15 kA/m","16.5 kA/m"],"range":["#000080","#FF00FF","#FFFF00","#00FFFF","#800080","#800000","#008080","#0000FF","#00CCFF","#CCFFFF","#FFFF99","#CCFFCC"]},"legend":null}
}},
{"data":{"name":"a"},
"mark":{"type":"point","filled":true,"opacity":1,"size":70,"strokeWidth":1.5},
"encoding":{
"x":{"field":"x","type":"quantitative","scale":{"type":"log","domain":[1e-7,1e-4],"nice":false},
"axis":{"orient":"bottom","values":[2e-7,3e-7,4e-7,5e-7,6e-7,7e-7,8e-7,9e-7,2e-6,3e-6,4e-6,5e-6,6e-6,7e-6,8e-6,9e-6,2e-5,3e-5,4e-5,5e-5,6e-5,7e-5,8e-5,9e-5],"grid":false,"domain":false,"labels":false,"tickSize":-7,"tickWidth":1,"title":null}},
"y":{"field":"y","type":"quantitative","scale":{"type":"log","domain":[1e-5,1e-2],"nice":false},
"axis":{"orient":"left","values":[2e-5,3e-5,4e-5,5e-5,6e-5,7e-5,8e-5,9e-5,2e-4,3e-4,4e-4,5e-4,6e-4,7e-4,8e-4,9e-4,2e-3,3e-3,4e-3,5e-3,6e-3,7e-3,8e-3,9e-3],"grid":false,"domain":false,"labels":false,"tickSize":-7,"tickWidth":1,"title":null}},
"fill":{"field":"s","type":"nominal","scale":{"domain":["0 kA/m","1.5 kA/m","3 kA/m","4.5 kA/m","6 kA/m","7.5 kA/m","9 kA/m","10.5 kA/m","12 kA/m","13.5 kA/m","15 kA/m","16.5 kA/m"],"range":["#000080","#FF00FF","#FFFF00","#00FFFF","#800080","#800000","#008080","#0000FF","#00CCFF","#CCFFFF","#FFFF99","#CCFFCC"]},"legend":null},
"stroke":{"field":"s","type":"nominal","scale":{"domain":["0 kA/m","1.5 kA/m","3 kA/m","4.5 kA/m","6 kA/m","7.5 kA/m","9 kA/m","10.5 kA/m","12 kA/m","13.5 kA/m","15 kA/m","16.5 kA/m"],"range":["#000080","#FF00FF","#FFFF00","#00FFFF","#800080","#800000","#008080","#0000FF","#00CCFF","#CCFFFF","#FFFF99","#CCFFCC"]},"legend":null},
"shape":{"field":"s","type":"nominal","scale":{"domain":["0 kA/m","1.5 kA/m","3 kA/m","4.5 kA/m","6 kA/m","7.5 kA/m","9 kA/m","10.5 kA/m","12 kA/m","13.5 kA/m","15 kA/m","16.5 kA/m"],"range":["diamond","square","triangle-up","M-1,-1L1,1M-1,1L1,-1","M-1,-1L1,1M-1,1L1,-1M0,-1.35V1.35","circle","M-1.2,0H1.2M0,-1.2V1.2","M-0.8,-0.35H0.8V0.35H-0.8Z","M-1.3,-0.3H1.3V0.3H-1.3Z","diamond","triangle-up","square"]},"legend":null}
}},
{"data":{"name":"a"},"transform":[{"filter":"false"}],
"mark":{"type":"point","filled":true,"opacity":1,"strokeWidth":1.5,
"fill":{"expr":"{'0 kA/m':'#000080','1.5 kA/m':'#FF00FF','3 kA/m':'#FFFF00','4.5 kA/m':'#00FFFF','6 kA/m':'#800080','7.5 kA/m':'#800000','9 kA/m':'#008080','10.5 kA/m':'#0000FF','12 kA/m':'#00CCFF','13.5 kA/m':'#CCFFFF','15 kA/m':'#FFFF99','16.5 kA/m':'#CCFFCC'}[datum.value]"},
"stroke":{"expr":"{'0 kA/m':'#000080','1.5 kA/m':'#FF00FF','3 kA/m':'#FFFF00','4.5 kA/m':'#00FFFF','6 kA/m':'#800080','7.5 kA/m':'#800000','9 kA/m':'#008080','10.5 kA/m':'#0000FF','12 kA/m':'#00CCFF','13.5 kA/m':'#CCFFFF','15 kA/m':'#FFFF99','16.5 kA/m':'#CCFFCC'}[datum.value]"}},
"encoding":{
"shape":{"field":"s","type":"nominal","scale":{"domain":["0 kA/m","1.5 kA/m","3 kA/m","4.5 kA/m","6 kA/m","7.5 kA/m","9 kA/m","10.5 kA/m","12 kA/m","13.5 kA/m","15 kA/m","16.5 kA/m"],"range":["M-1,0H1M0,-0.24L0.24,0L0,0.24L-0.24,0Z","M-1,0H1M-0.2,-0.2H0.2V0.2H-0.2Z","M-1,0H1M0,-0.25L0.25,0.19L-0.25,0.19Z","M-1,0H1M-0.2,-0.2L0.2,0.2M-0.2,0.2L0.2,-0.2","M-1,0H1M-0.2,-0.2L0.2,0.2M-0.2,0.2L0.2,-0.2M0,-0.27V0.27","M-1,0H1M0.22,0C0.22,0.12,0.12,0.22,0,0.22C-0.12,0.22,-0.22,0.12,-0.22,0C-0.22,-0.12,-0.12,-0.22,0,-0.22C0.12,-0.22,0.22,-0.12,0.22,0Z","M-1,0H1M0,-0.25V0.25","M-1,0H1M-0.16,-0.08H0.16V0.08H-0.16Z","M-1,0H1M-0.24,-0.07H0.24V0.07H-0.24Z","M-1,0H1M0,-0.24L0.24,0L0,0.24L-0.24,0Z","M-1,0H1M0,-0.25L0.25,0.19L-0.25,0.19Z","M-1,0H1M-0.2,-0.2H0.2V0.2H-0.2Z"]},
"legend":{"orient":"none","legendX":701,"legendY":11,"title":null,"direction":"vertical","fillColor":"#ffffff","padding":10,"rowPadding":11,"symbolSize":1764,"symbolStrokeWidth":1.5,"symbolOpacity":1,"labelFontSize":28,"labelOffset":7,"labelLimit":300}}
}},
{"data":{"values":[{"x":2e-7,"y":4e-4},{"x":3.04e-6,"y":6.08e-3}]},
"mark":{"type":"line","color":"#FF0000","strokeWidth":4},
"encoding":{"x":{"field":"x","type":"quantitative","scale":{"type":"log","domain":[1e-7,1e-4],"nice":false},"axis":null},"y":{"field":"y","type":"quantitative","scale":{"type":"log","domain":[1e-5,1e-2],"nice":false},"axis":null}}},
{"data":{"values":[{"x":5.47e-7,"y":3.23e-3,"t":"Slope = 1"}]},
"mark":{"type":"text","color":"#FF0000","fontSize":30,"align":"center","baseline":"middle","font":"Liberation Sans"},
"encoding":{"x":{"field":"x","type":"quantitative","axis":null},"y":{"field":"y","type":"quantitative","axis":null},"text":{"field":"t"}}},
{"data":{"values":[{"x":1.75e-7,"y":1.99e-5,"t":"(a)"},{"x":3.08e-6,"y":2.44e-5,"t":"T=343 K, Sample 1"}]},
"mark":{"type":"text","color":"#000000","fontSize":30,"align":"center","baseline":"middle","font":"Liberation Sans"},
"encoding":{"x":{"field":"x","type":"quantitative","axis":null},"y":{"field":"y","type":"quantitative","axis":null},"text":{"field":"t"}}}
]
},
{
"width":942,"height":613,
"resolve":{"axis":{"x":"independent","y":"independent"},"scale":{"shape":"independent"},"legend":{"shape":"independent"}},
"layer":[
{"data":{"name":"b"},
"mark":{"type":"line","strokeWidth":1.5,"interpolate":"catmull-rom"},
"encoding":{
"x":{"field":"x","type":"quantitative","scale":{"type":"log","domain":[1e-8,1e-4],"nice":false},
"axis":{"orient":"bottom","values":[1e-8,1e-7,1e-6,1e-5,1e-4],"grid":true,"gridColor":"#000","gridWidth":1,"gridOpacity":1,"domain":false,"tickSize":7,"tickWidth":1,"labelExpr":"['10⁰','10⁻¹','10⁻²','10⁻³','10⁻⁴','10⁻⁵','10⁻⁶','10⁻⁷','10⁻⁸'][round(-log(datum.value)/LN10)]","labelPadding":21,"labelOffset":{"condition":{"test":"datum.value > 5e-5","value":-14},"value":0},"labelFlush":false,"labelOverlap":false,"title":"ε₀","titlePadding":5}},
"y":{"field":"y","type":"quantitative","scale":{"type":"log","domain":[1e-4,1e-1],"nice":false},
"axis":{"orient":"left","values":[1e-4,1e-3,1e-2,1e-1],"grid":true,"gridColor":"#000","gridWidth":1,"gridOpacity":1,"domain":false,"tickSize":7,"tickWidth":1,"labelExpr":"['10⁰','10⁻¹','10⁻²','10⁻³','10⁻⁴','10⁻⁵','10⁻⁶','10⁻⁷','10⁻⁸'][round(-log(datum.value)/LN10)]","labelPadding":6,"labelFlush":false,"labelOverlap":false,"title":"δh","titlePadding":8}},
"stroke":{"field":"s","type":"nominal","scale":{"domain":["0 kA/m","1.5 kA/m","3 kA/m","4.5 kA/m","6 kA/m"],"range":["#FF00FF","#0000FF","#FF0000","#339966","#FFCC99"]},"legend":null}
}},
{"data":{"name":"b"},
"mark":{"type":"point","filled":true,"opacity":1,"size":85,"strokeWidth":1.5},
"encoding":{
"x":{"field":"x","type":"quantitative","scale":{"type":"log","domain":[1e-8,1e-4],"nice":false},
"axis":{"orient":"bottom","values":[2e-8,3e-8,4e-8,5e-8,6e-8,7e-8,8e-8,9e-8,2e-7,3e-7,4e-7,5e-7,6e-7,7e-7,8e-7,9e-7,2e-6,3e-6,4e-6,5e-6,6e-6,7e-6,8e-6,9e-6,2e-5,3e-5,4e-5,5e-5,6e-5,7e-5,8e-5,9e-5],"grid":false,"domain":false,"labels":false,"tickSize":-7,"tickWidth":1,"title":null}},
"y":{"field":"y","type":"quantitative","scale":{"type":"log","domain":[1e-4,1e-1],"nice":false},
"axis":{"orient":"left","values":[2e-4,3e-4,4e-4,5e-4,6e-4,7e-4,8e-4,9e-4,2e-3,3e-3,4e-3,5e-3,6e-3,7e-3,8e-3,9e-3,2e-2,3e-2,4e-2,5e-2,6e-2,7e-2,8e-2,9e-2],"grid":false,"domain":false,"labels":false,"tickSize":-7,"tickWidth":1,"title":null}},
"fill":{"field":"s","type":"nominal","scale":{"domain":["0 kA/m","1.5 kA/m","3 kA/m","4.5 kA/m","6 kA/m"],"range":["#FF00FF","#0000FF","#FF0000","#339966","#FFCC99"]},"legend":null},
"stroke":{"field":"s","type":"nominal","scale":{"domain":["0 kA/m","1.5 kA/m","3 kA/m","4.5 kA/m","6 kA/m"],"range":["#FF00FF","#0000FF","#FF0000","#339966","#FFCC99"]},"legend":null},
"shape":{"field":"s","type":"nominal","scale":{"domain":["0 kA/m","1.5 kA/m","3 kA/m","4.5 kA/m","6 kA/m"],"range":["circle","circle","circle","circle","M-1.2,0H1.2M0,-1.2V1.2"]},"legend":null}
}},
{"data":{"name":"b"},"transform":[{"filter":"false"}],
"mark":{"type":"point","filled":true,"opacity":1,"strokeWidth":1.5,
"fill":{"expr":"{'0 kA/m':'#FF00FF','1.5 kA/m':'#0000FF','3 kA/m':'#FF0000','4.5 kA/m':'#339966','6 kA/m':'#FFCC99'}[datum.value]"},
"stroke":{"expr":"{'0 kA/m':'#FF00FF','1.5 kA/m':'#0000FF','3 kA/m':'#FF0000','4.5 kA/m':'#339966','6 kA/m':'#FFCC99'}[datum.value]"}},
"encoding":{
"shape":{"field":"s","type":"nominal","scale":{"domain":["0 kA/m","1.5 kA/m","3 kA/m","4.5 kA/m","6 kA/m"],"range":["M-1,0H1M0.22,0C0.22,0.12,0.12,0.22,0,0.22C-0.12,0.22,-0.22,0.12,-0.22,0C-0.22,-0.12,-0.12,-0.22,0,-0.22C0.12,-0.22,0.22,-0.12,0.22,0Z","M-1,0H1M0.22,0C0.22,0.12,0.12,0.22,0,0.22C-0.12,0.22,-0.22,0.12,-0.22,0C-0.22,-0.12,-0.12,-0.22,0,-0.22C0.12,-0.22,0.22,-0.12,0.22,0Z","M-1,0H1M0.22,0C0.22,0.12,0.12,0.22,0,0.22C-0.12,0.22,-0.22,0.12,-0.22,0C-0.22,-0.12,-0.12,-0.22,0,-0.22C0.12,-0.22,0.22,-0.12,0.22,0Z","M-1,0H1M0.22,0C0.22,0.12,0.12,0.22,0,0.22C-0.12,0.22,-0.22,0.12,-0.22,0C-0.22,-0.12,-0.12,-0.22,0,-0.22C0.12,-0.22,0.22,-0.12,0.22,0Z","M-1,0H1M0,-0.25V0.25"]},
"legend":{"orient":"none","legendX":11,"legendY":0,"title":null,"direction":"vertical","fillColor":"#ffffff","padding":22,"rowPadding":25,"symbolSize":1764,"symbolStrokeWidth":1.5,"symbolOpacity":1,"labelFontSize":28,"labelOffset":7,"labelLimit":300}}
}},
{"data":{"values":[{"x":1e-7,"y":1e-3},{"x":1e-6,"y":1e-2}]},
"mark":{"type":"line","color":"#FF0000","strokeWidth":2.2},
"encoding":{"x":{"field":"x","type":"quantitative","scale":{"type":"log","domain":[1e-8,1e-4],"nice":false},"axis":null},"y":{"field":"y","type":"quantitative","scale":{"type":"log","domain":[1e-4,1e-1],"nice":false},"axis":null}}},
{"data":{"values":[{"x":2.36e-7,"y":5.7e-3,"t":"Slope =1"}]},
"mark":{"type":"text","color":"#FF0000","fontSize":29,"align":"center","baseline":"middle","font":"Liberation Sans"},
"encoding":{"x":{"field":"x","type":"quantitative","axis":null},"y":{"field":"y","type":"quantitative","axis":null},"text":{"field":"t"}}},
{"data":{"values":[{"x":1.98e-8,"y":2.16e-4,"t":"(b)"},{"x":9.41e-7,"y":2.16e-4,"t":"T=343 K, Sample 2"}]},
"mark":{"type":"text","color":"#000000","fontSize":30,"align":"center","baseline":"middle","font":"Liberation Sans"},
"encoding":{"x":{"field":"x","type":"quantitative","axis":null},"y":{"field":"y","type":"quantitative","axis":null},"text":{"field":"t"}}}
]
}
]
}
